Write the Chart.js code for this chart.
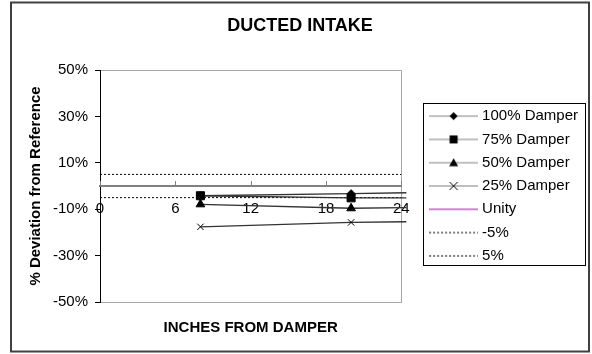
<!DOCTYPE html>
<html>
<head>
<meta charset="utf-8">
<script src="https://cdn.jsdelivr.net/npm/chart.js@4/dist/chart.umd.min.js"></script>
<style>
  html, body { margin: 0; padding: 0; background: #fff; }
</style>
</head>
<body>
<canvas id="chart" width="592" height="354"></canvas>
<script>
// values
const X_POINTS = [8, 20, 24.4];
const X_LIMITS = [0, 24];
const DAMPER_100 = [-4.2, -3.3, -2.9];
const DAMPER_75 = [-4.2, -5.1, -5.1];
const DAMPER_50 = [-7.9, -9.6, -9.3];
const DAMPER_25 = [-17.6, -15.7, -15.4];
const UNITY = [0, 0];
const MINUS_5 = [-5, -5];
const PLUS_5 = [5, 5];
const X_TICKS = [0, 6, 12, 18, 24];
const Y_TICKS = [-50, -30, -10, 10, 30, 50];

const FONT = "'Liberation Sans', Arial, sans-serif";
Chart.defaults.font.family = FONT;
Chart.defaults.color = '#000';

// small canvases used as legend samples (line + marker)
function legendSample(kind) {
    const c = document.createElement('canvas');
    c.width = 49;
    c.height = 12;
    const g = c.getContext('2d');
    const cy = 6, cx = 24.5;
    g.lineWidth = 1;
    g.strokeStyle = '#808080';
    if (kind === 'dotted') {
        g.setLineDash([2, 2]);
        g.strokeStyle = '#000';
    } else if (kind === 'unity') {
        g.strokeStyle = '#cc88cc';
        g.lineWidth = 2;
    }
    g.beginPath();
    g.moveTo(0, cy);
    g.lineTo(49, cy);
    g.stroke();
    g.setLineDash([]);
    g.fillStyle = '#000';
    g.strokeStyle = '#000';
    g.beginPath();
    if (kind === 'rectRot') {
        g.moveTo(cx, cy - 4); g.lineTo(cx + 4, cy); g.lineTo(cx, cy + 4); g.lineTo(cx - 4, cy);
        g.closePath(); g.fill();
    } else if (kind === 'rect') {
        g.fillRect(cx - 4, cy - 4, 8, 8);
    } else if (kind === 'triangle') {
        g.moveTo(cx, cy - 4.5); g.lineTo(cx + 4.5, cy + 3.5); g.lineTo(cx - 4.5, cy + 3.5);
        g.closePath(); g.fill();
    } else if (kind === 'crossRot') {
        g.moveTo(cx - 4, cy - 4); g.lineTo(cx + 4, cy + 4);
        g.moveTo(cx + 4, cy - 4); g.lineTo(cx - 4, cy + 4);
        g.stroke();
    }
    return c;
}

const SAMPLES = ['rectRot', 'rect', 'triangle', 'crossRot', 'unity', 'dotted', 'dotted'].map(legendSample);

function damper(label, ys, style, radius) {
    return {
        label: label,
        data: X_POINTS.map((x, i) => ({x: x, y: ys[i]})),
        showLine: true,
        borderColor: '#333',
        borderWidth: 1.3,
        pointStyle: style,
        pointRadius: [radius, radius, 0],
        pointHoverRadius: [radius, radius, 0],
        pointBackgroundColor: '#000',
        pointBorderColor: '#000',
        pointBorderWidth: 1,
        clip: {left: 0, top: 0, right: 6, bottom: 0},
    };
}

function flat(label, ys, color, dash, width) {
    return {
        label: label,
        data: X_LIMITS.map((x, i) => ({x: x, y: ys[i]})),
        showLine: true,
        borderColor: color,
        borderWidth: width,
        borderDash: dash,
        pointRadius: 0,
        pointHoverRadius: 0,
    };
}

const framePlugin = {
    id: 'frame',
    beforeDraw(chart) {
        const {ctx, chartArea: a} = chart;
        ctx.save();
        ctx.fillStyle = '#fff';
        ctx.fillRect(0, 0, chart.width, chart.height);
        ctx.strokeStyle = '#a6a6a6';
        ctx.lineWidth = 1;
        ctx.strokeRect(Math.round(a.left) + 0.5, Math.round(a.top) + 0.5,
            Math.round(a.right - a.left), Math.round(a.bottom - a.top));
        ctx.strokeStyle = '#404040';
        ctx.lineWidth = 2;
        ctx.strokeRect(11, 2.5, 578, 349);
        ctx.restore();
    },
    afterDraw(chart) {
        const {ctx, legend, scales} = chart;
        ctx.save();
        // small upward ticks on the x axis
        const zero = scales.y.getPixelForValue(0);
        ctx.strokeStyle = '#808080';
        ctx.lineWidth = 1;
        scales.x.ticks.forEach(t => {
            const px = Math.round(scales.x.getPixelForValue(t.value)) + 0.5;
            ctx.beginPath();
            ctx.moveTo(px, zero - 5);
            ctx.lineTo(px, zero);
            ctx.stroke();
        });
        // legend box
        const hb = legend.legendHitBoxes;
        if (hb && hb.length) {
            const top = Math.round(hb[0].top - 5.5) + 0.5;
            const bottom = Math.round(hb[hb.length - 1].top + 16.5) + 0.5;
            const left = Math.round(legend.left - 1) + 0.5;
            const right = Math.round(legend.right - 3) + 0.5;
            ctx.strokeStyle = '#000';
            ctx.lineWidth = 1;
            ctx.strokeRect(left, top, right - left, bottom - top);
        }
        ctx.restore();
    }
};

new Chart(
    document.getElementById('chart'),
    {
        type: 'scatter',
        data: {
            datasets: [
                damper('100% Damper', DAMPER_100, 'rectRot', 4),
                damper('75% Damper', DAMPER_75, 'rect', 5.7),
                damper('50% Damper', DAMPER_50, 'triangle', 5),
                damper('25% Damper', DAMPER_25, 'crossRot', 4.5),
                flat('Unity', UNITY, '#cc88cc', [], 1),
                flat('-5%', MINUS_5, '#000', [2, 2], 1),
                flat('5%', PLUS_5, '#000', [2, 2], 1),
            ]
        },
        options: {
            responsive: false,
            animation: false,
            layout: {
                padding: {top: 4, right: 4, bottom: 4, left: 12},
            },
            scales: {
                x: {
                    type: 'linear',
                    position: {y: 0},
                    min: 0,
                    max: 24,
                    z: 1,
                    afterBuildTicks: s => { s.ticks = X_TICKS.map(v => ({value: v})); },
                    grid: {drawOnChartArea: false, drawTicks: false},
                    border: {color: '#808080', width: 2, z: 2},
                    ticks: {padding: 14, font: {size: 15}, color: '#000', maxRotation: 0, autoSkip: false},
                },
                y: {
                    type: 'linear',
                    position: 'left',
                    min: -50,
                    max: 50,
                    afterBuildTicks: s => { s.ticks = Y_TICKS.map(v => ({value: v})); },
                    afterFit: s => { s.width = 88; },
                    grid: {drawOnChartArea: false, tickLength: 5, color: '#000'},
                    border: {color: '#000', width: 1},
                    ticks: {padding: 7, font: {size: 15}, color: '#000', callback: v => v + '%'},
                    title: {
                        display: true,
                        text: '% Deviation from Reference',
                        font: {size: 15, weight: 'bold'},
                        color: '#000',
                        padding: {top: 15, bottom: 0},
                    },
                },
                y2: {
                    type: 'linear',
                    position: 'right',
                    grid: {display: false},
                    border: {display: false},
                    ticks: {display: false},
                    afterFit: s => { s.width = 23; },
                },
            },
            plugins: {
                tooltip: {enabled: false},
                title: {
                    display: true,
                    text: 'DUCTED INTAKE',
                    font: {size: 18, weight: 'bold'},
                    color: '#000',
                    padding: {top: 11, bottom: 33.4},
                },
                subtitle: {
                    display: true,
                    position: 'bottom',
                    fullSize: false,
                    text: 'INCHES FROM DAMPER',
                    font: {size: 15, weight: 'bold'},
                    color: '#000',
                    padding: {top: 17, bottom: 13},
                },
                legend: {
                    position: 'right',
                    fullSize: false,
                    align: 'center',
                    maxWidth: 220,
                    labels: {
                        usePointStyle: true,
                        pointStyleWidth: 42,
                        padding: 8.3,
                        font: {size: 15},
                        color: '#000',
                        generateLabels: chart => chart.data.datasets.map((d, i) => ({
                            text: d.label,
                            pointStyle: SAMPLES[i],
                            fillStyle: 'transparent',
                            strokeStyle: 'transparent',
                            lineWidth: 0,
                            hidden: false,
                            datasetIndex: i,
                        })),
                    },
                },
            },
        },
        plugins: [framePlugin],
    }
);
</script>
</body>
</html>
